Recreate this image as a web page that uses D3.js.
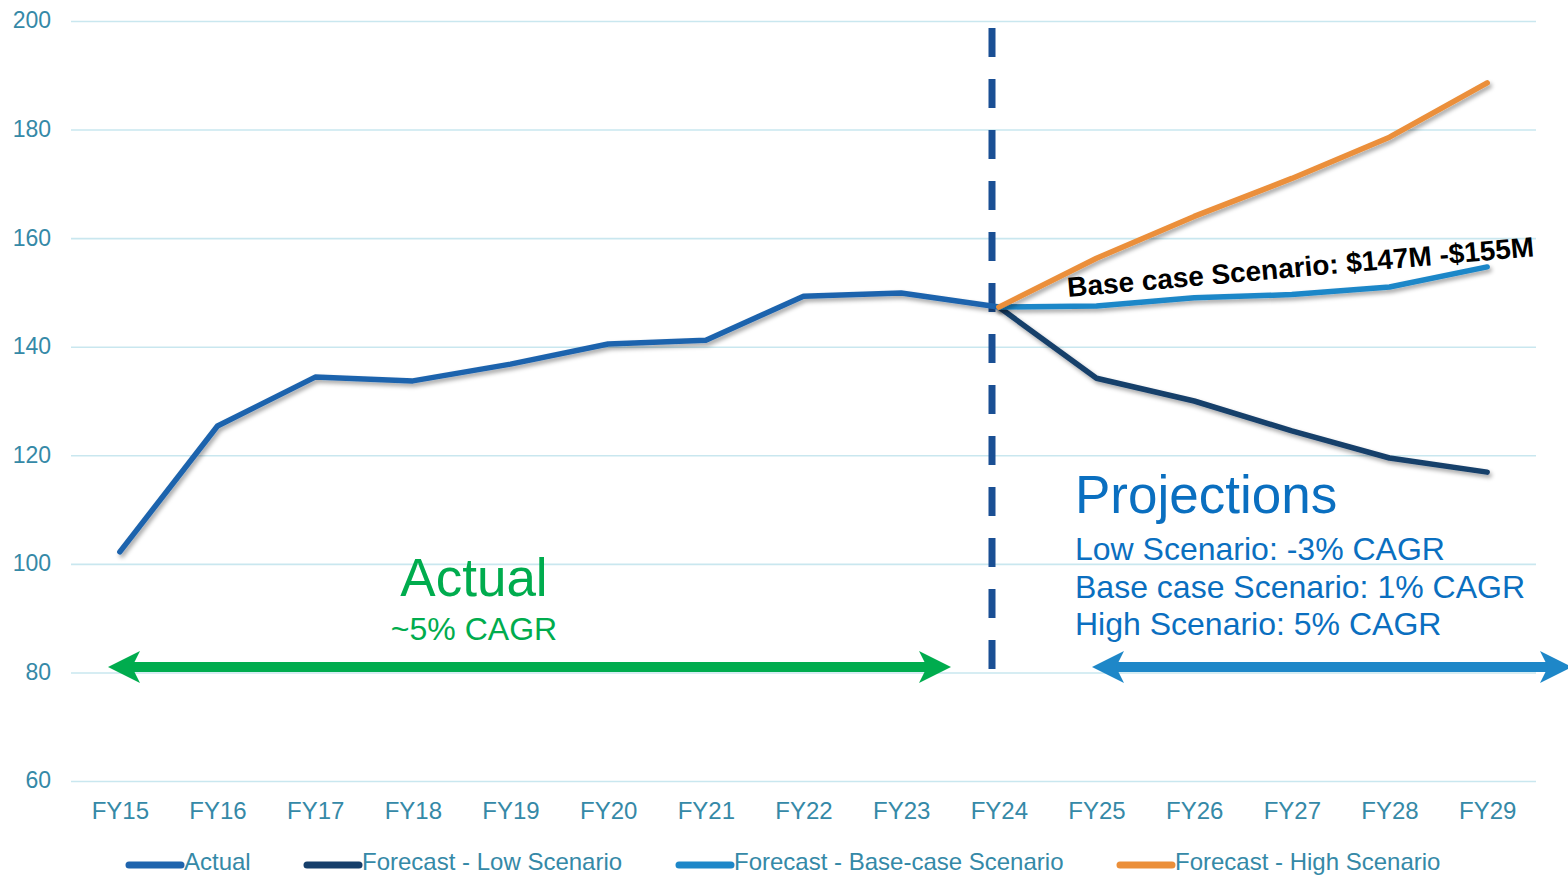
<!DOCTYPE html>
<html><head><meta charset="utf-8">
<script src="https://cdn.jsdelivr.net/npm/d3@7"></script>
<style>body{margin:0;background:#fff}svg{display:block;font-family:"Liberation Sans",Arial,sans-serif}</style>
</head><body><svg id="c" width="1568" height="876"></svg>
<script>
const categories = ["FY15","FY16","FY17","FY18","FY19","FY20","FY21","FY22","FY23","FY24","FY25","FY26","FY27","FY28","FY29"];
const actualValues = [102.2,125.4,134.4,133.7,136.8,140.5,141.2,149.3,149.9,147.3,null,null,null,null,null];
const lowValues    = [null,null,null,null,null,null,null,null,null,147.3,134.2,130.0,124.5,119.5,116.9];
const baseValues   = [null,null,null,null,null,null,null,null,null,147.3,147.5,149.0,149.6,151.0,154.7];
const highValues   = [null,null,null,null,null,null,null,null,null,147.3,156.3,164.0,171.0,178.6,188.6];
const yTicks = [60,80,100,120,140,160,180,200];
const seriesNames = ["Actual","Forecast - Low Scenario","Forecast - Base-case Scenario","Forecast - High Scenario"];
const seriesColors = ["#1f64ad","#163f6b","#1e87c8","#eb8f3a"];

const svg = d3.select("#c");
const x = d3.scalePoint().domain(categories).range([71,1536]).padding(0.5);
const y = d3.scaleLinear().domain([60,200]).range([781,21]);

const defs = svg.append("defs");
const f = defs.append("filter").attr("id","sh").attr("x","-10%").attr("y","-10%").attr("width","130%").attr("height","140%");
f.append("feDropShadow").attr("dx",2).attr("dy",3).attr("stdDeviation",2).attr("flood-color","#000").attr("flood-opacity",0.35);

// grid
const yAxis = d3.axisLeft(y).tickValues(yTicks).tickSize(-(1536-71)).tickPadding(20);
const gy = svg.append("g").attr("transform","translate(71,0)").call(yAxis);
gy.select(".domain").remove();
gy.selectAll(".tick line").attr("stroke","#c9e7ef").attr("stroke-width",1.6);
gy.selectAll(".tick text").attr("fill","#3589a7").attr("font-size",23).attr("font-family","Liberation Sans, Arial").attr("dy","0.3em");

const xAxis = d3.axisBottom(x).tickSize(0).tickPadding(21);
const gx = svg.append("g").attr("transform","translate(0,781)").call(xAxis);
gx.select(".domain").remove();
gx.selectAll(".tick text").attr("fill","#3589a7").attr("font-size",24).attr("font-family","Liberation Sans, Arial").attr("dy","0.71em");

// dashed divider
svg.append("line").attr("x1",992).attr("x2",992).attr("y1",28).attr("y2",672)
  .attr("stroke","#1a4f94").attr("stroke-width",7).attr("stroke-dasharray","29,22");

// lines
const allSeries = [actualValues, lowValues, baseValues, highValues];
allSeries.forEach((vals,k)=>{
  const gen = d3.line().defined(d=>d.v!=null).x(d=>x(d.c)).y(d=>y(d.v));
  svg.append("path").datum(vals.map((v,i)=>({c:categories[i],v})))
    .attr("d",gen).attr("fill","none").attr("stroke",seriesColors[k]).attr("stroke-width",5.5)
    .attr("stroke-linecap","round").attr("stroke-linejoin","round").attr("filter","url(#sh)");
});

// arrows
function arrow(x1,x2,yy,color){
  const g = svg.append("g");
  g.append("line").attr("x1",x1+20).attr("x2",x2-20).attr("y1",yy).attr("y2",yy).attr("stroke",color).attr("stroke-width",10);
  const head = (tip,dir)=>{
    const b = tip + dir*32, n = tip + dir*24;
    return `M${tip},${yy} L${b},${yy-16} L${n},${yy} L${b},${yy+16} Z`;
  };
  g.append("path").attr("d",head(x1,1)).attr("fill",color);
  g.append("path").attr("d",head(x2,-1)).attr("fill",color);
}
arrow(108,951,667,"#00ac4e");
arrow(1092,1572,667,"#1e87c8");

// annotations
svg.append("text").attr("x",474).attr("y",596).attr("text-anchor","middle").attr("font-size",53).attr("fill","#00ac4e").text("Actual");
svg.append("text").attr("x",474).attr("y",640).attr("text-anchor","middle").attr("font-size",32).attr("fill","#00ac4e").text("~5% CAGR");

svg.append("text").attr("x",1075).attr("y",513).attr("font-size",53).attr("fill","#0a6fc0").text("Projections");
const projLines = ["Low Scenario: -3% CAGR","Base case Scenario: 1% CAGR","High Scenario: 5% CAGR"];
projLines.forEach((t,i)=>svg.append("text").attr("x",1075).attr("y",560+i*37.5).attr("font-size",32).attr("fill","#0a6fc0").text(t));

svg.append("text").attr("transform","translate(1068,297) rotate(-5)")
  .attr("font-size",28).attr("font-weight","bold").attr("fill","#000").text("Base case Scenario: $147M -$155M");

// legend
const legendX = [126,304,676,1117];
seriesNames.forEach((n,i)=>{
  svg.append("line").attr("x1",legendX[i]+3).attr("x2",legendX[i]+55).attr("y1",865).attr("y2",865)
    .attr("stroke",seriesColors[i]).attr("stroke-width",7).attr("stroke-linecap","round");
  svg.append("text").attr("x",legendX[i]+58).attr("y",870).attr("font-size",24).attr("fill","#3589a7").text(n);
});
</script></body></html>
